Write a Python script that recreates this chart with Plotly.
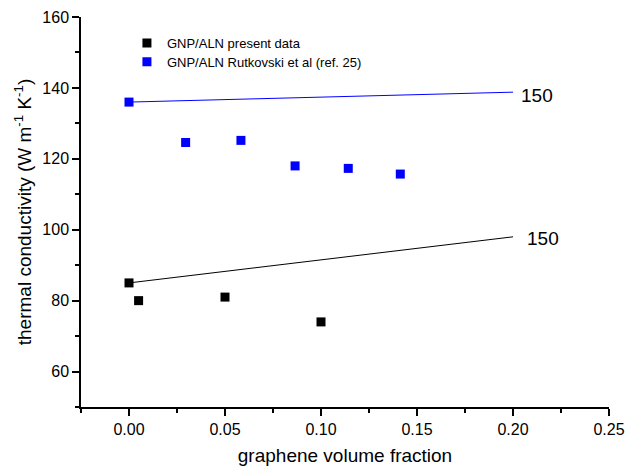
import plotly.graph_objects as go

# Data
present_x = [0.0, 0.005, 0.05, 0.10]
present_y = [85, 80, 81, 74]
rutk_x = [0.0, 0.0295, 0.0583, 0.0865, 0.1142, 0.1413]
rutk_y = [136, 124.6, 125.2, 118.0, 117.3, 115.7]
fit_x = [0.0, 0.20]
fit_present_y = [85, 98]
fit_rutk_y = [136, 138.8]
line_label = "150"

FONT = "Liberation Sans, Arial, sans-serif"

fig = go.Figure()
fig.add_trace(go.Scatter(x=fit_x, y=fit_present_y, mode="lines",
                         line=dict(color="black", width=1), showlegend=False, hoverinfo="skip"))
fig.add_trace(go.Scatter(x=fit_x, y=fit_rutk_y, mode="lines",
                         line=dict(color="#0000ff", width=1), showlegend=False, hoverinfo="skip"))
fig.add_trace(go.Scatter(x=present_x, y=present_y, mode="markers", name="GNP/ALN present data",
                         marker=dict(symbol="square", size=9, color="black"), legend="legend"))
fig.add_trace(go.Scatter(x=rutk_x, y=rutk_y, mode="markers", name="GNP/ALN Rutkovski et al (ref. 25)",
                         marker=dict(symbol="square", size=9, color="#0000ff"), legend="legend2"))

for yv, xs, ys in ((fit_present_y[-1], 12, -2), (fit_rutk_y[-1], 6, -3)):
    fig.add_annotation(x=fit_x[-1], y=yv, text=line_label, showarrow=False,
                       xanchor="left", yanchor="middle", xshift=xs, yshift=ys,
                       font=dict(size=19, color="black", family=FONT))

axis_common = dict(showline=True, linecolor="black", linewidth=1.5, ticks="outside",
                   tickcolor="black", tickwidth=1.5, ticklen=7, showgrid=False, zeroline=False,
                   mirror=False, automargin=False, tickfont=dict(size=16, color="black", family=FONT))

fig.update_xaxes(range=[-0.025, 0.25], tickvals=[0, 0.05, 0.10, 0.15, 0.20, 0.25],
                 ticktext=["0.00", "0.05", "0.10", "0.15", "0.20", "0.25"],
                 minor=dict(tickvals=[-0.025, 0.025, 0.075, 0.125, 0.175, 0.225], ticks="outside",
                            ticklen=4, tickcolor="black", tickwidth=1.5),
                 title=dict(text="graphene volume fraction", font=dict(size=19, color="black", family=FONT),
                            standoff=12),
                 **axis_common)
fig.update_yaxes(range=[50, 160], tickvals=[60, 80, 100, 120, 140, 160],
                 minor=dict(tickvals=[50, 70, 90, 110, 130, 150], ticks="outside",
                            ticklen=4, tickcolor="black", tickwidth=1.5),
                 title=dict(text="thermal conductivity (W m<sup>-1</sup> K<sup>-1</sup>)",
                            font=dict(size=19, color="black", family=FONT), standoff=6),
                 **axis_common)

legend_common = dict(xanchor="left", yanchor="middle", bgcolor="rgba(0,0,0,0)",
                     font=dict(size=13, color="black", family=FONT), itemwidth=30)

fig.update_layout(
    width=626, height=470,
    margin=dict(l=81, r=17, t=17, b=63),
    paper_bgcolor="white", plot_bgcolor="white",
    font=dict(family=FONT, color="black"),
    legend=dict(x=0.087, y=0.933, **legend_common),
    legend2=dict(x=0.087, y=0.885, **legend_common),
)

fig.write_html("out.html", config={"displayModeBar": False},
               post_script="document.body.style.margin='0';document.body.style.padding='0';")
